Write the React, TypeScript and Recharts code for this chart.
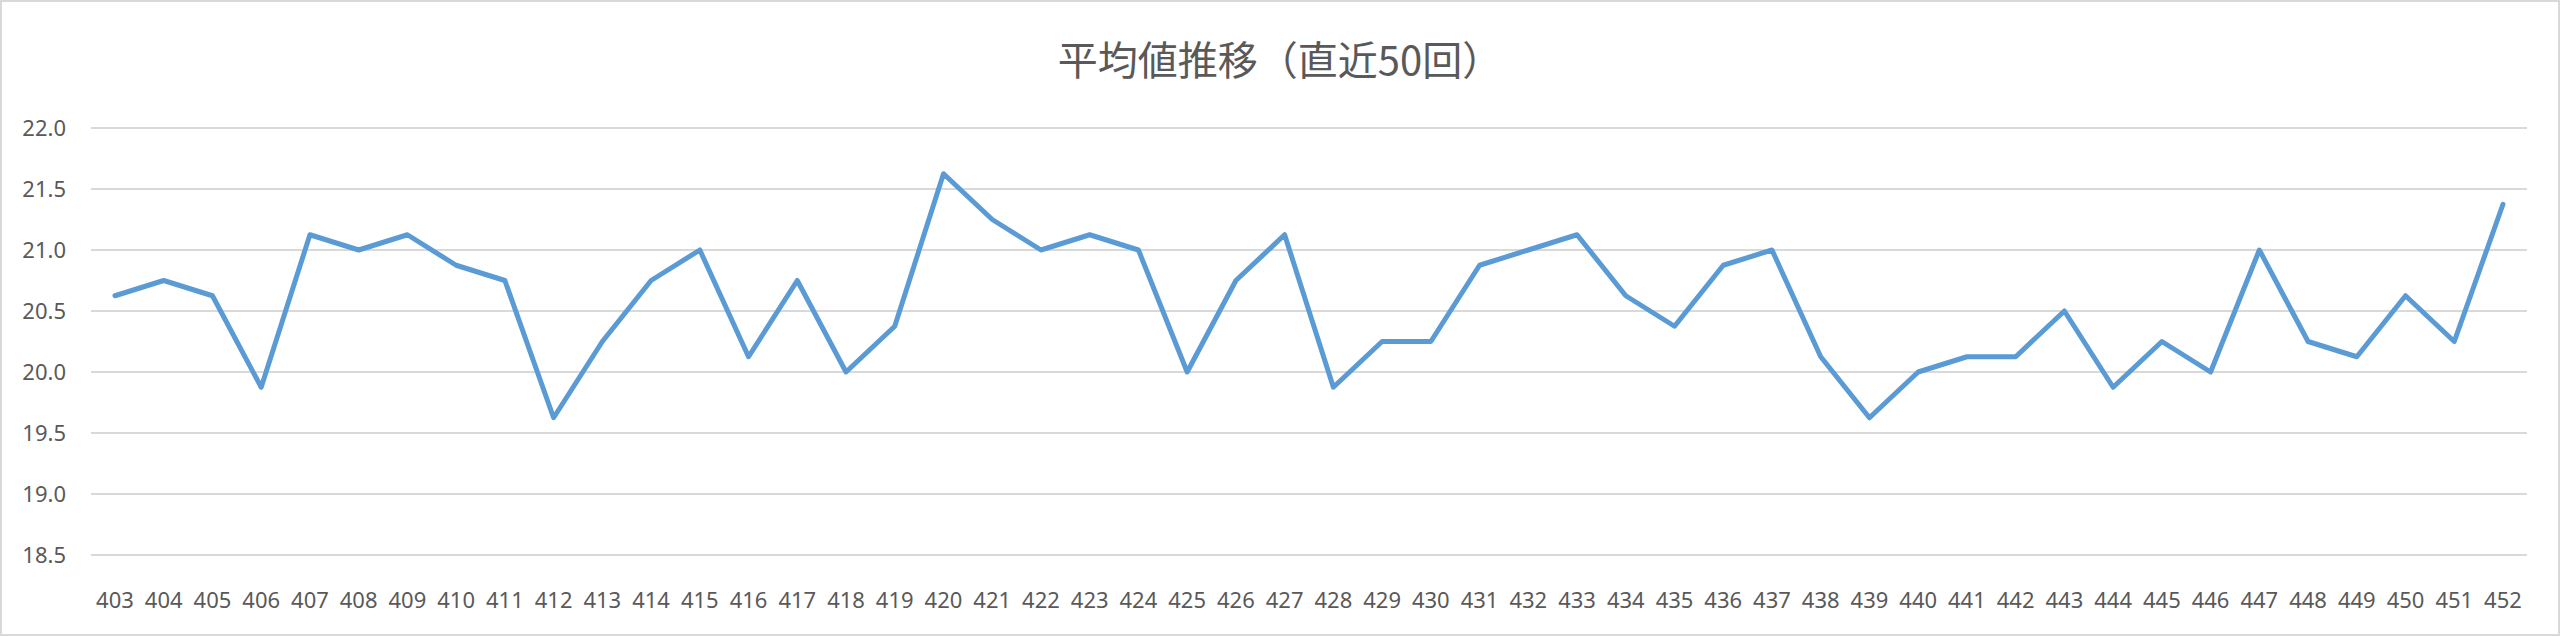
import { LineChart, Line, XAxis, YAxis, CartesianGrid } from 'recharts'

const rounds = [
  '403', '404', '405', '406', '407', '408', '409', '410', '411', '412',
  '413', '414', '415', '416', '417', '418', '419', '420', '421', '422',
  '423', '424', '425', '426', '427', '428', '429', '430', '431', '432',
  '433', '434', '435', '436', '437', '438', '439', '440', '441', '442',
  '443', '444', '445', '446', '447', '448', '449', '450', '451', '452',
]

const averages = [
  20.625, 20.75, 20.625, 19.875, 21.125, 21.0, 21.125, 20.875, 20.75, 19.625,
  20.25, 20.75, 21.0, 20.125, 20.75, 20.0, 20.375, 21.625, 21.25, 21.0,
  21.125, 21.0, 20.0, 20.75, 21.125, 19.875, 20.25, 20.25, 20.875, 21.0,
  21.125, 20.625, 20.375, 20.875, 21.0, 20.125, 19.625, 20.0, 20.125, 20.125,
  20.5, 19.875, 20.25, 20.0, 21.0, 20.25, 20.125, 20.625, 20.25, 21.375,
]

const yTicks = [18.5, 19.0, 19.5, 20.0, 20.5, 21.0, 21.5, 22.0]

const title = '平均値推移（直近50回）'

const data = rounds.map((r, i) => ({ round: r, avg: averages[i] }))

const tickFont = "'Noto Sans', 'Open Sans', sans-serif"
const textColor = '#595959'

export default function App() {
  return (
    <div style={{ position: 'absolute', left: 0, top: 0, width: 2560, height: 636, background: '#fff' }}>
      <style>{'body{margin:0}'}</style>
      <LineChart width={2560} height={636} data={data} margin={{ top: 128, right: 33, bottom: 41, left: 0 }}>
        <CartesianGrid horizontal vertical={false} stroke="#D9D9D9" strokeWidth={2} />
        <XAxis
          dataKey="round"
          interval={0}
          padding={{ left: 24, right: 24 }}
          axisLine={false}
          tickLine={false}
          tickSize={0}
          tickMargin={37}
          height={40}
          tick={{ fill: textColor, fontSize: 22, fontFamily: tickFont }}
        />
        <YAxis
          domain={[18.5, 22]}
          ticks={yTicks}
          width={91}
          axisLine={false}
          tickLine={false}
          tickSize={0}
          tickMargin={25}
          tickFormatter={v => Number(v).toFixed(1)}
          tick={{ fill: textColor, fontSize: 22, fontFamily: tickFont }}
        />
        <Line
          type="linear"
          dataKey="avg"
          stroke="#5B9BD5"
          strokeWidth={5}
          strokeLinejoin="round"
          strokeLinecap="round"
          dot={false}
          isAnimationActive={false}
        />
      </LineChart>
      <div
        style={{
          position: 'absolute',
          left: 980,
          width: 600,
          top: 31,
          textAlign: 'center',
          fontSize: 40,
          lineHeight: '54px',
          color: textColor,
          fontFamily: "'Noto Sans CJK JP', sans-serif",
          whiteSpace: 'nowrap',
        }}
      >
        {title}
      </div>
      <div style={{ position: 'absolute', inset: 0, border: '2px solid #D9D9D9', pointerEvents: 'none' }} />
    </div>
  )
}
